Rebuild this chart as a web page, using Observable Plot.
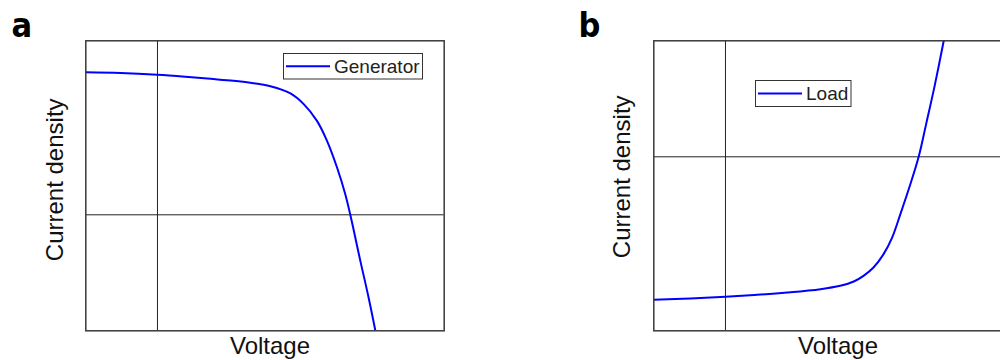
<!DOCTYPE html>
<html>
<head>
<meta charset="utf-8">
<script src="https://cdn.jsdelivr.net/npm/d3@7"></script>
<script src="https://cdn.jsdelivr.net/npm/@observablehq/plot@0.6"></script>
<style>
  html, body { margin: 0; padding: 0; background: #fff; }
  #wrap { position: relative; width: 1000px; height: 360px; overflow: hidden; background: #fff; }
  .panel { position: absolute; top: 0; width: 460px; height: 360px; }
  .panel svg { max-width: none !important; display: block; }
  #legend { position: absolute; left: 0; top: 0; pointer-events: none; }
</style>
</head>
<body>
<div id="wrap">
  <div id="pa" class="panel" style="left:0px"></div>
  <div id="pb" class="panel" style="left:568px"></div>
  <svg id="legend" width="1000" height="360"></svg>
</div>
<script>
// ---- data (arbitrary units) ----
const genVoltage = [-0.2, -0.103, 0.0, 0.078, 0.148, 0.212, 0.259, 0.315, 0.371, 0.408, 0.445, 0.473, 0.501, 0.524, 0.538, 0.566, 0.589, 0.608];
const genCurrent = [1.228, 1.222, 1.207, 1.19, 1.172, 1.155, 1.138, 1.108, 1.046, 0.954, 0.81, 0.638, 0.408, 0.178, 0.0, -0.397, -0.713, -1.0];

const loadVoltage = [-0.2, -0.098, 0.0, 0.088, 0.172, 0.265, 0.32, 0.358, 0.385, 0.413, 0.441, 0.465, 0.488, 0.516, 0.539, 0.56, 0.583, 0.609];
const loadCurrent = [-1.233, -1.222, -1.207, -1.19, -1.17, -1.141, -1.112, -1.075, -1.026, -0.954, -0.839, -0.696, -0.494, -0.235, 0.0, 0.284, 0.603, 1.0];

const panelLetters = ["a", "b"];
const seriesNames = ["Generator", "Load"];
const xLabel = "Voltage";
const yLabel = "Current density";

const genData = genVoltage.map((v, i) => ({v, j: genCurrent[i]}));
const loadData = loadVoltage.map((v, i) => ({v, j: loadCurrent[i]}));

const FONT = "Arial, 'Liberation Sans', sans-serif";
const LETTER_FONT = "'Liberation Sans Narrow', 'DejaVu Sans Condensed', Arial, sans-serif";

function panel(data, yDomain, letter, yLabelDx, yLabelDy, letterDx) {
  return Plot.plot({
    width: 460,
    height: 360,
    marginLeft: 85.3,
    marginRight: 16.3,
    marginTop: 40.3,
    marginBottom: 29.7,
    x: {domain: [-0.2, 0.8], axis: null},
    y: {domain: yDomain, axis: null},
    style: {background: "white", overflow: "visible", maxWidth: "none"},
    marks: [
      Plot.ruleX([0], {stroke: "#222", strokeWidth: 1}),
      Plot.ruleY([0], {stroke: "#222", strokeWidth: 1}),
      Plot.line(data, {x: "v", y: "j", stroke: "#0000ff", strokeWidth: 2, curve: "catmull-rom", clip: true}),
      Plot.frame({stroke: "#3a3a3a", strokeWidth: 1.5}),
      Plot.text([xLabel], {text: d => d, frameAnchor: "bottom", textAnchor: "middle", lineAnchor: "top", dx: 5, dy: 6.5,
        fontSize: 24, fontFamily: FONT, fill: "#111"}),
      Plot.text([yLabel], {text: d => d, frameAnchor: "left", textAnchor: "middle", rotate: -90, lineAnchor: "bottom",
        dx: yLabelDx, dy: yLabelDy, fontSize: 24, fontFamily: FONT, fill: "#111"}),
      Plot.text([letter], {text: d => d, frameAnchor: "top-left", textAnchor: "start", lineAnchor: "bottom",
        dx: letterDx, dy: -3.6, fontSize: 34, fontWeight: "bold", fontFamily: LETTER_FONT, fill: "#000"})
    ]
  });
}

document.getElementById("pa").appendChild(panel(genData, [-1, 1.5], panelLetters[0], -22.6, -6, -74.3));
document.getElementById("pb").appendChild(panel(loadData, [-1.5, 1], panelLetters[1], -24, -9, -75.3));

// ---- legends ----
const lg = d3.select("#legend");
function legend(x, y, w, h, name) {
  const g = lg.append("g");
  g.append("rect").attr("x", x).attr("y", y).attr("width", w).attr("height", h)
    .attr("fill", "white").attr("stroke", "#333").attr("stroke-width", 1);
  g.append("line").attr("x1", x + 2.5).attr("x2", x + 46.5).attr("y1", y + h / 2).attr("y2", y + h / 2)
    .attr("stroke", "#0000ff").attr("stroke-width", 2);
  g.append("text").attr("x", x + 50.5).attr("y", y + h / 2 + 6.5)
    .attr("font-family", FONT).attr("font-size", 19).attr("fill", "#222").text(name);
}
legend(283.5, 53.5, 139, 25.5, seriesNames[0]);
legend(755.5, 80.5, 95.5, 26, seriesNames[1]);
</script>
</body>
</html>
